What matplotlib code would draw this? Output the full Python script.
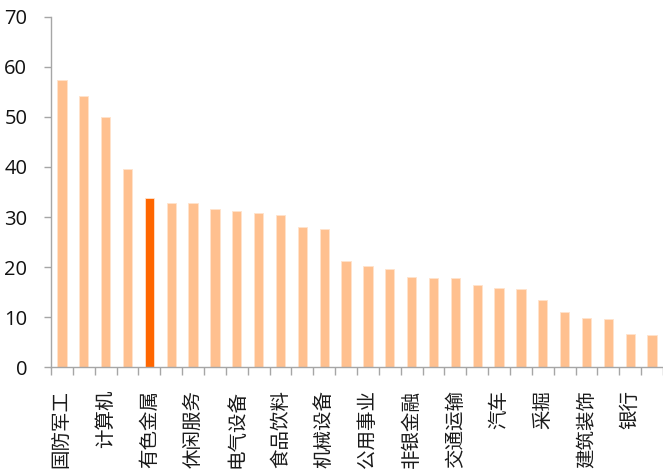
import numpy as np
import matplotlib.pyplot as plt

plt.rcParams['font.family'] = ['Noto Sans CJK SC', 'DejaVu Sans']

# 行业估值（28个申万一级行业，隔一个显示标签）
industries = ['国防军工', '', '计算机', '', '有色金属', '', '休闲服务', '',
              '电气设备', '', '食品饮料', '', '机械设备', '', '公用事业', '',
              '非银金融', '', '交通运输', '', '汽车', '', '采掘', '',
              '建筑装饰', '', '银行', '']
values = [57.3, 54.1, 50.0, 39.5, 33.8, 32.8, 32.8, 31.6, 31.2, 30.9,
          30.4, 28.1, 27.7, 21.2, 20.2, 19.7, 18.1, 17.8, 17.8, 16.5,
          15.8, 15.6, 13.4, 11.0, 9.8, 9.6, 6.7, 6.45]
highlight = '有色金属'

light = '#FFC08F'
dark = '#FF6600'
colors = [dark if name == highlight else light for name in industries]

fig = plt.figure(figsize=(6.63, 4.73), dpi=100)
ax = fig.add_axes([0.0769, 0.2235, 0.9231, 0.7412])

x = np.arange(len(values))
ax.bar(x, values, width=0.42, color=colors, edgecolor='#FFE3CC', linewidth=0.6)

ax.set_xlim(-0.5, len(values) - 0.5)
ax.set_ylim(0, 70)
ax.set_yticks(range(0, 71, 10))
ax.tick_params(axis='y', direction='out', length=5, width=1, color='#A6A6A6',
               labelsize=14.5, labelcolor='#111111', pad=12)
for lab in ax.get_yticklabels():
    lab.set_family(['Open Sans', 'DejaVu Sans'])

# 类目边界刻度 + 标签居中
ax.set_xticks(np.arange(-0.5, len(values), 1.0))
ax.set_xticklabels([])
ax.tick_params(axis='x', which='major', direction='out', length=6, width=1,
               color='#A6A6A6')
shown = [i for i, n in enumerate(industries) if n]
ax.set_xticks(shown, minor=True)
ax.set_xticklabels([industries[i] for i in shown], minor=True, rotation=90,
                   fontsize=14, fontweight='light', color='#1A1A1A',
                   va='top', ha='center')
ax.tick_params(axis='x', which='minor', length=0, pad=16)

for side in ['top', 'right']:
    ax.spines[side].set_visible(False)
for side in ['left', 'bottom']:
    ax.spines[side].set_color('#A6A6A6')
    ax.spines[side].set_linewidth(1)

fig.savefig('out.png', dpi=100)
